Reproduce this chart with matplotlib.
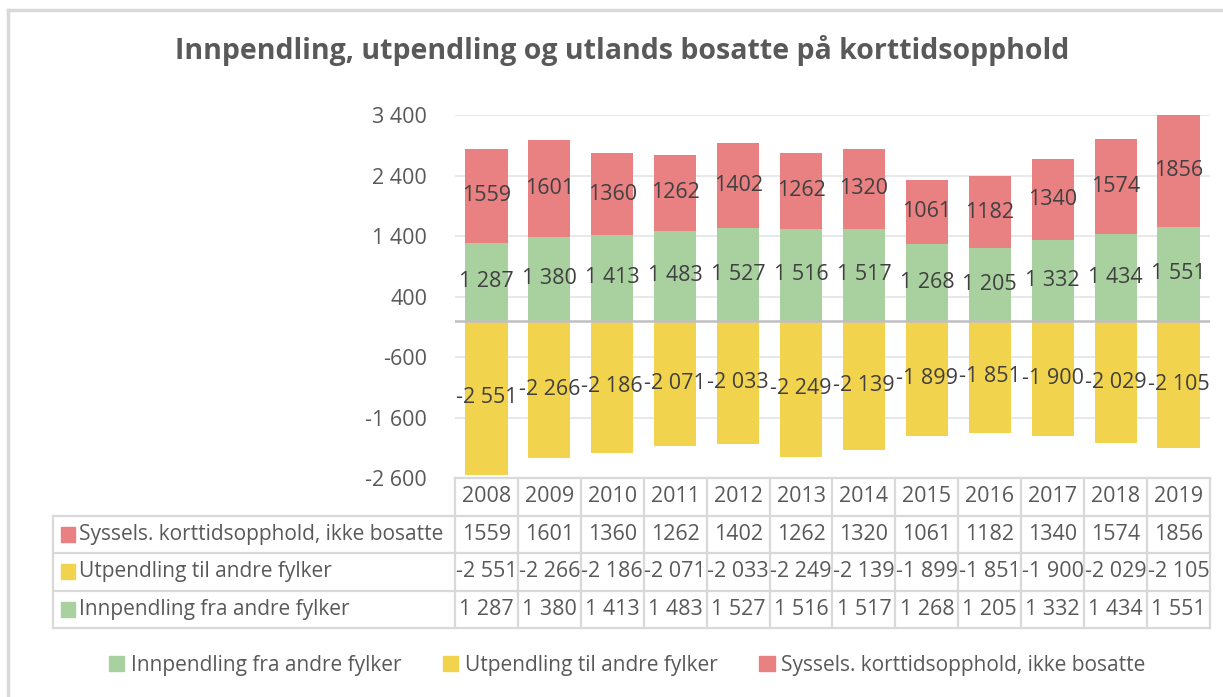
import matplotlib.pyplot as plt
from matplotlib.patches import Rectangle
from matplotlib.lines import Line2D

# ─── Data ─────────────────────────────────────────────────────────
years = ["2008", "2009", "2010", "2011", "2012", "2013",
         "2014", "2015", "2016", "2017", "2018", "2019"]
innpendling = [1287, 1380, 1413, 1483, 1527, 1516, 1517, 1268, 1205, 1332, 1434, 1551]
utpendling = [-2551, -2266, -2186, -2071, -2033, -2249, -2139, -1899, -1851, -1900, -2029, -2105]
korttid = [1559, 1601, 1360, 1262, 1402, 1262, 1320, 1061, 1182, 1340, 1574, 1856]
yticks = [-2600, -1600, -600, 400, 1400, 2400, 3400]

lbl_inn = "Innpendling fra andre fylker"
lbl_ut = "Utpendling til andre fylker"
lbl_kort = "Syssels. korttidsopphold, ikke bosatte"
title = "Innpendling, utpendling og utlands bosatte på korttidsopphold"

# ─── Style ────────────────────────────────────────────────────────
C_GREEN = "#A9D1A0"
C_YELLOW = "#F2D34E"
C_RED = "#E98183"
C_TEXT = "#595959"
C_LABEL = "#404040"
C_GRID = "#E6E6E6"
C_TABLE = "#D9D9D9"
FS = 15.5
plt.rcParams["font.family"] = ["Open Sans", "DejaVu Sans"]

W, H = 1223, 697
fig = plt.figure(figsize=(W / 100, H / 100), dpi=100)


def fx(px):
    return px / W


def fy(py):
    return 1 - py / H


def fmt(v):
    return f"{v:,}".replace(",", " ")


# ramme rundt diagrammet (bare venstre / topp synlig)
fig.add_artist(Line2D([fx(8), fx(8)], [fy(10), 0], color="#D9D9D9", lw=2.5))
fig.add_artist(Line2D([fx(8), 1], [fy(10), fy(10)], color="#D9D9D9", lw=2.5))

fig.text(fx(622), fy(51), title, ha="center", va="center", fontsize=20.5,
         fontweight="bold", color=C_TEXT)

# ─── Søyler ───────────────────────────────────────────────────────
x0, x1 = 455, 1210
y_top, y_bot = 115, 478
ax = fig.add_axes([fx(x0), fy(y_bot), fx(x1) - fx(x0), fy(y_top) - fy(y_bot)])
x = list(range(len(years)))
bw = 0.67
ax.bar(x, innpendling, bw, color=C_GREEN, label=lbl_inn)
ax.bar(x, utpendling, bw, color=C_YELLOW, label=lbl_ut)
ax.bar(x, korttid, bw, bottom=innpendling, color=C_RED, label=lbl_kort)

ax.set_xlim(-0.5, len(years) - 0.5)
ax.set_ylim(yticks[0], yticks[-1])
ax.set_yticks(yticks)
ax.set_yticklabels([fmt(v) for v in yticks])
ax.tick_params(axis="y", length=0, labelsize=FS, colors=C_TEXT, pad=20)
ax.set_xticks([])
for s in ax.spines.values():
    s.set_visible(False)
for v in yticks:
    ax.axhline(v, color=C_GRID, lw=1.3, zorder=0)
ax.axhline(0, color="#BFBFBF", lw=1.8, zorder=3)

for i in x:
    ax.text(i, innpendling[i] / 2, fmt(innpendling[i]), ha="center", va="center",
            fontsize=FS, color=C_LABEL)
    ax.text(i, utpendling[i] / 2, fmt(utpendling[i]), ha="center", va="center",
            fontsize=FS, color=C_LABEL)
    ax.text(i, innpendling[i] + korttid[i] / 2, str(korttid[i]), ha="center",
            va="center", fontsize=FS, color=C_LABEL)

# ─── Datatabell ───────────────────────────────────────────────────
tl = 53
t_bot = 628
col_w = (x1 - x0) / len(years)
lab_w = (x0 - tl) / col_w
tax = fig.add_axes([fx(tl), fy(t_bot), fx(x1) - fx(tl), fy(y_bot) - fy(t_bot)])
tax.set_xlim(-0.5 - lab_w, len(years) - 0.5)
tax.set_ylim(4, 0)
tax.axis("off")

lw_t = 1.6
tax.plot([-0.5, len(years) - 0.5], [0, 0], color=C_TABLE, lw=lw_t, clip_on=False)
for r in [1, 2, 3, 4]:
    tax.plot([-0.5 - lab_w, len(years) - 0.5], [r, r], color=C_TABLE, lw=lw_t, clip_on=False)
tax.plot([-0.5 - lab_w] * 2, [1, 4], color=C_TABLE, lw=lw_t, clip_on=False)
for c in range(len(years) + 1):
    tax.plot([c - 0.5] * 2, [0, 4], color=C_TABLE, lw=lw_t, clip_on=False)

rows = [(lbl_kort, C_RED, [str(v) for v in korttid]),
        (lbl_ut, C_YELLOW, [fmt(v) for v in utpendling]),
        (lbl_inn, C_GREEN, [fmt(v) for v in innpendling])]
for i, yr in enumerate(years):
    tax.text(i, 0.5, yr, ha="center", va="center", fontsize=FS, color=C_TEXT)
for r, (name, col, vals) in enumerate(rows, start=1):
    tax.add_patch(Rectangle((-0.5 - lab_w + 0.13, r + 0.5 - 0.2), 0.22, 0.4,
                            color=col, clip_on=False))
    tax.text(-0.5 - lab_w + 0.42, r + 0.5, name, ha="left", va="center",
             fontsize=15, color=C_TEXT)
    for i, v in enumerate(vals):
        tax.text(i, r + 0.5, v, ha="center", va="center", fontsize=FS, color=C_TEXT)

# ─── Tegnforklaring ───────────────────────────────────────────────
handles = [Rectangle((0, 0), 1, 1, color=c) for c in (C_GREEN, C_YELLOW, C_RED)]
fig.legend(handles, [lbl_inn, lbl_ut, lbl_kort], loc="center",
           bbox_to_anchor=(fx(627), fy(665)), ncol=3, frameon=False,
           fontsize=15, handlelength=0.75, handleheight=0.75, handletextpad=0.3,
           columnspacing=2.0, labelcolor=C_TEXT)

fig.savefig("out.png", dpi=100)
